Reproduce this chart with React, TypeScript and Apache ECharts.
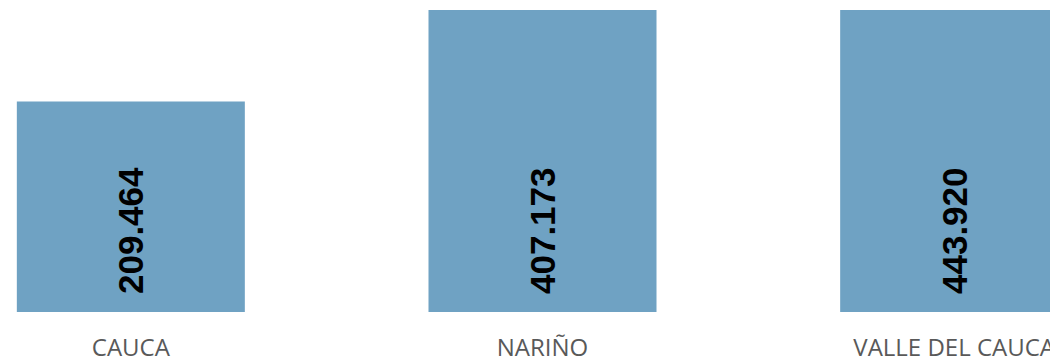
import React, { useEffect, useRef } from "react";
import * as echarts from "echarts";

const categories = ["CAUCA", "NARIÑO", "VALLE DEL CAUCA"];
const values = [209464, 407173, 443920];

function formatValue(v: number): string {
  return String(v).replace(/\B(?=(\d{3})+(?!\d))/g, ".");
}

export default function App() {
  const ref = useRef<HTMLDivElement>(null);
  useEffect(() => {
    if (!ref.current) return;
    const chart = echarts.init(ref.current, null, { renderer: "svg" });
    chart.setOption({
      animation: false,
      grid: { left: 0, right: 0, top: 10, bottom: 46, containLabel: false },
      xAxis: {
        type: "category",
        data: categories,
        axisLine: { show: false },
        axisTick: { show: false },
        axisLabel: {
          color: "#595959",
          fontFamily: "Open Sans",
          fontSize: 24,
          margin: 22,
          interval: 0,
        },
      },
      yAxis: {
        type: "value",
        min: 0,
        max: 300500,
        show: false,
        splitLine: { show: false },
      },
      series: [
        {
          type: "bar",
          data: values,
          barWidth: 228,
          clip: true,
          itemStyle: { color: "#6fa2c3" },
          label: {
            show: true,
            position: "insideBottom",
            rotate: 90,
            align: "left",
            verticalAlign: "middle",
            distance: 18,
            color: "#000000",
            fontFamily: "Liberation Sans",
            fontWeight: "bold",
            fontSize: 35,
            formatter: (p: any) => formatValue(p.value),
          },
        },
      ],
    });
    return () => chart.dispose();
  }, []);
  return (
    <div
      style={{
        position: "absolute",
        left: 0,
        top: 0,
        width: 1050,
        height: 358,
        overflow: "hidden",
        background: "#ffffff",
      }}
    >
      <div
        ref={ref}
        style={{ position: "absolute", left: -75, top: 0, width: 1235, height: 358 }}
      />
    </div>
  );
}
